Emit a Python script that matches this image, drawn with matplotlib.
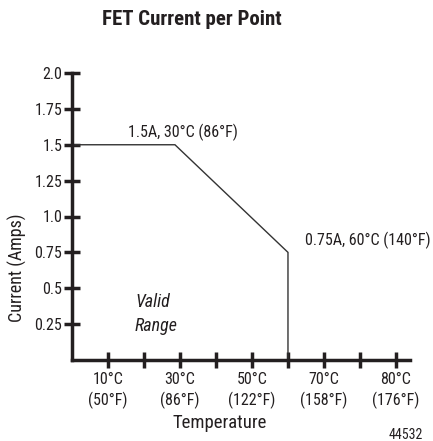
import matplotlib
matplotlib.use("Agg")
import matplotlib.pyplot as plt

# derating curve (x in deg C, y in amps)
temp_c = [0, 28.6, 60, 60]
current_a = [1.5, 1.5, 0.75, 0]

x_ticks = [10, 20, 30, 40, 50, 60, 70, 80, 90]
x_labels = ["10°C\n(50°F)", "", "30°C\n(86°F)", "", "50°C\n(122°F)", "",
            "70°C\n(158°F)", "", "80°C\n(176°F)"]
y_ticks = [0.25, 0.5, 0.75, 1.0, 1.25, 1.5, 1.75, 2.0]
y_labels = ["0.25", "0.5", "0.75", "1.0", "1.25", "1.5", "1.75", "2.0"]

plt.rcParams["font.family"] = ["Roboto Condensed", "DejaVu Sans"]
ink = "#231f20"

fig = plt.figure(figsize=(4.33, 4.41), dpi=100)
ax = fig.add_axes([72 / 433, 1 - 360 / 441, 338 / 433, 287 / 441])

ax.plot(temp_c, current_a, color="#333333", lw=1.0, solid_joinstyle="miter")

ax.set_xlim(0, 93.9)
ax.set_ylim(0, 2.0)
ax.spines["top"].set_visible(False)
ax.spines["right"].set_visible(False)
for s in ("left", "bottom"):
    ax.spines[s].set_linewidth(2.5)
    ax.spines[s].set_color(ink)

ax.set_xticks(x_ticks, x_labels)
ax.set_yticks(y_ticks, y_labels)
ax.tick_params(direction="inout", length=12, width=2.5, color=ink,
               labelsize=11.5, labelcolor=ink)
ax.tick_params(axis="y", pad=1)
ax.tick_params(axis="x", pad=3)
for t in ax.get_xticklabels():
    t.set_linespacing(1.3)

ax.text(15.5, 1.555, "1.5A, 30°C (86°F)", fontsize=11.5, color=ink, va="baseline")
ax.text(64.7, 0.8, "0.75A, 60°C (140°F)", fontsize=11.5, color=ink, va="baseline")
ax.text(17.5, 0.2, "Valid\nRange", fontsize=13, style="italic", color=ink,
        va="baseline", linespacing=1.45)

fig.text(17 / 433, 1 - 268 / 441, "Current (Amps)", rotation=90, fontsize=13,
         color=ink, ha="center", va="center")
fig.text(220 / 433, 1 - 428 / 441, "Temperature", fontsize=13.5, color=ink,
         ha="center", va="baseline")
fig.text(192 / 433, 1 - 25 / 441, "FET Current per Point", fontsize=15,
         weight="bold", color=ink, ha="center", va="baseline")
fig.text(423 / 433, 1 - 439 / 441, "44532", fontsize=10, color=ink,
         ha="right", va="baseline")

fig.savefig("out.png", dpi=100)
